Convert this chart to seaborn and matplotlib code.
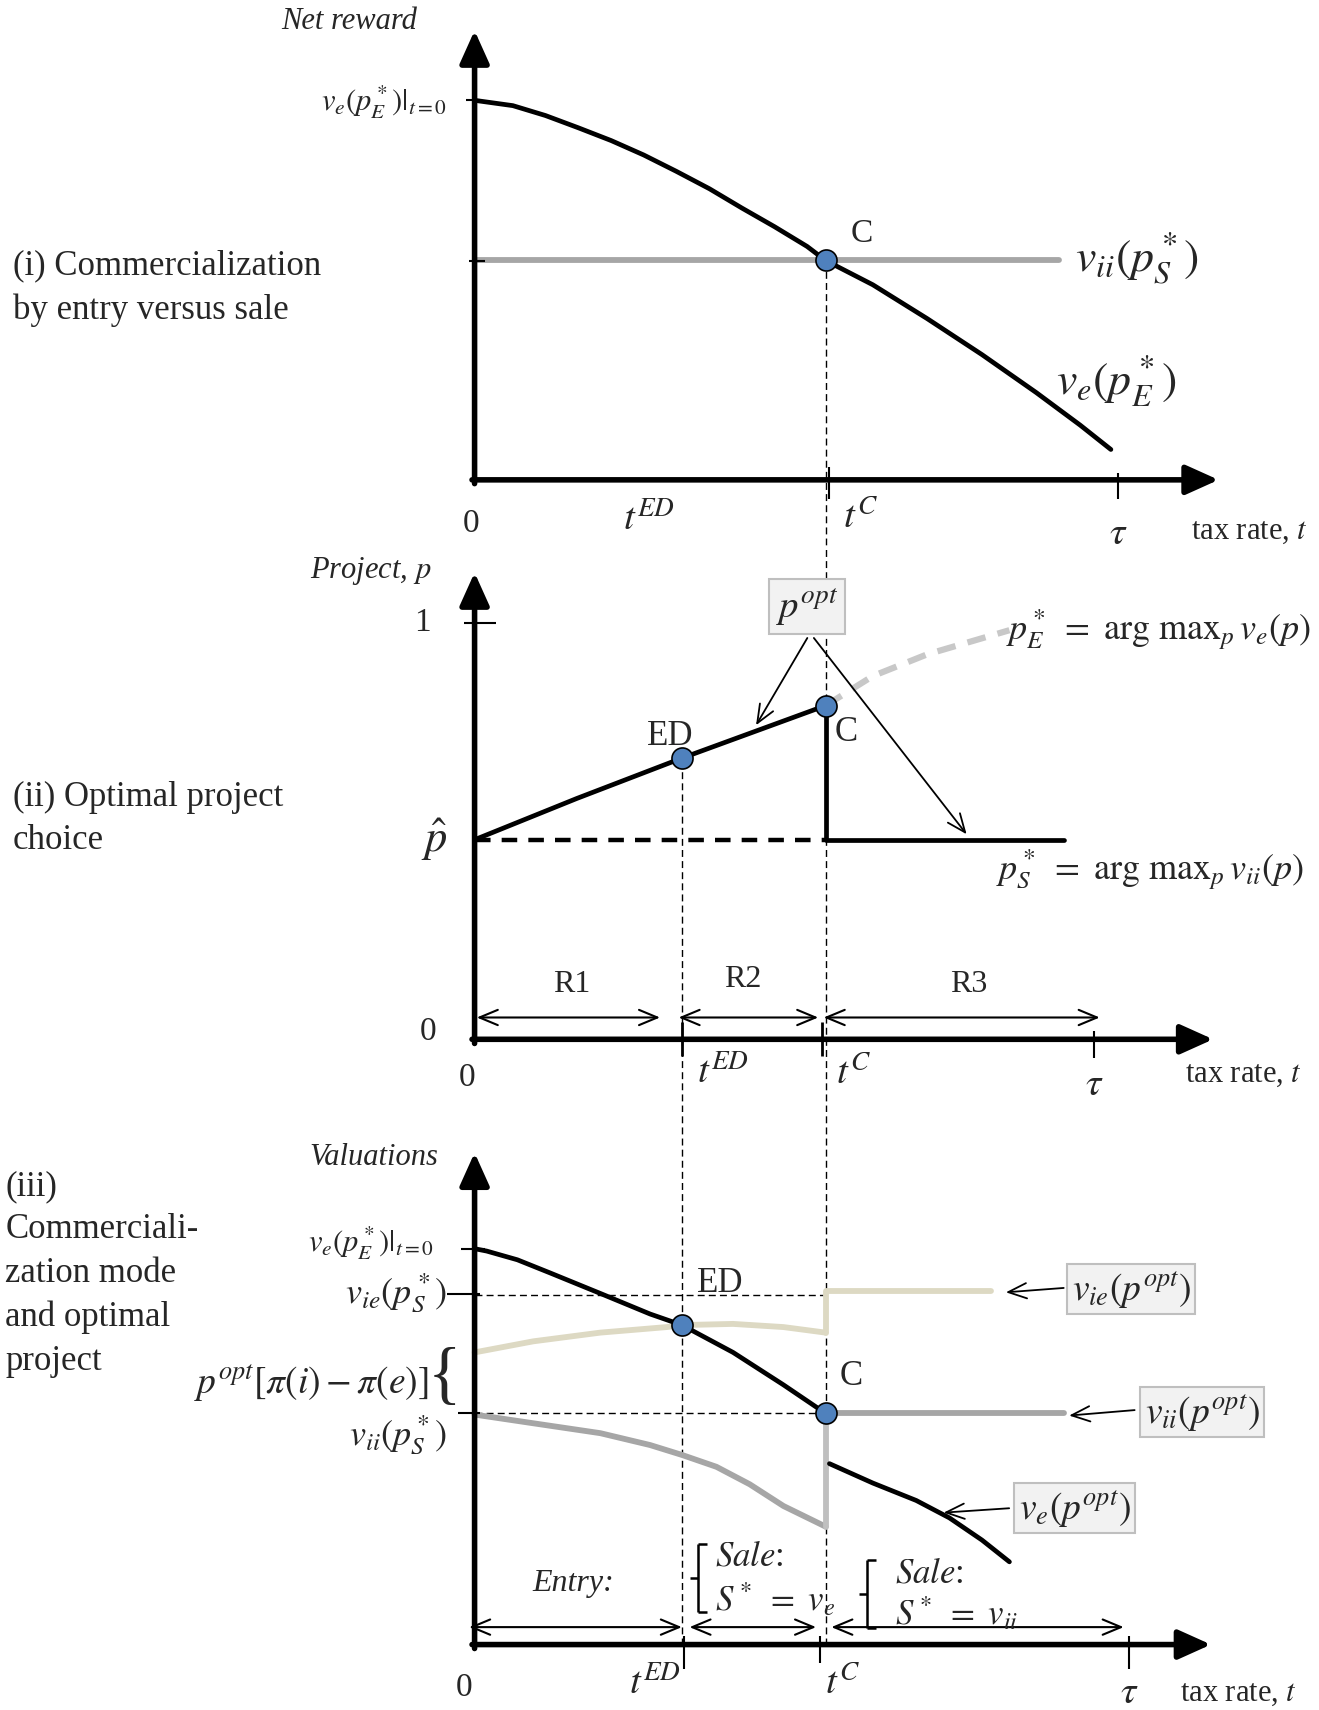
import matplotlib
matplotlib.use("Agg")
import matplotlib.pyplot as plt
import seaborn as sns

sns.set_style("white")
plt.rcParams["font.family"] = ["Liberation Serif", "DejaVu Serif"]
plt.rcParams["mathtext.fontset"] = "stix"

# key tax rates (tau = 1)
T_ED = 0.325
T_C = 0.55
TAU = 1.0

# panel (i): net reward
p1_t = [0.0, 0.060, 0.111, 0.162, 0.214, 0.265, 0.316, 0.368, 0.419, 0.470, 0.521, T_C,
        0.624, 0.709, 0.795, 0.880, 0.949, 0.997]
p1_ve = [1.0, 0.986, 0.960, 0.928, 0.894, 0.856, 0.813, 0.767, 0.716, 0.667, 0.615, 0.578,
         0.514, 0.425, 0.330, 0.230, 0.144, 0.080]
p1_vii = 0.578
p1_vii_end = 0.915

# panel (ii): optimal project
p2_t = [0.0, 0.16, T_ED, T_C]
p2_popt = [0.479, 0.578, 0.675, 0.801]
p2_phat = 0.479
p2_pE_t = [T_C, 0.624, 0.709, 0.838]
p2_pE = [0.801, 0.872, 0.924, 0.982]
p2_pS_end = 0.923

# panel (iii): valuations
p3_ve_t1 = [0.0, 0.019, 0.067, 0.118, 0.197, 0.275, T_ED, 0.405, 0.484, T_C]
p3_ve1 = [1.0, 0.994, 0.972, 0.939, 0.887, 0.835, 0.807, 0.738, 0.656, 0.584]
p3_ve_t2 = [0.556, 0.624, 0.692, 0.744, 0.795, 0.838]
p3_ve2 = [0.457, 0.408, 0.364, 0.320, 0.264, 0.209]
p3_vie_t = [0.0, 0.092, 0.197, 0.301, T_ED, 0.405, 0.484, T_C]
p3_vie = [0.738, 0.766, 0.788, 0.802, 0.807, 0.810, 0.802, 0.788]
p3_vie_high = 0.892
p3_vie_end = 0.809
p3_vii_t = [0.0, 0.092, 0.197, 0.275, T_ED, 0.379, 0.431, 0.484, T_C]
p3_vii = [0.581, 0.559, 0.534, 0.504, 0.479, 0.449, 0.405, 0.350, 0.298]
p3_vii_level = 0.584
p3_vii_end = 0.923
p3_vieS = 0.884

BLUE = "#4f81bd"
GRAY = "#a6a6a6"
LGRAY = "#bfbfbf"
BEIGE = "#ddd9c3"

W, H = 1209, 1568  # layout units (reference preview size)
fig = plt.figure(figsize=(13.19, 17.10), dpi=100)

# panel geometry: (origin y, px per unit, band top, band bottom)
PAN = {1: (440, 348, 0, 500), 2: (953, 382, 500, 1020), 3: (1508, 363, 1020, 1568)}
X0, SX = 435, 585


def make_ax(k):
    y0, sy, top, bot = PAN[k]
    ax = fig.add_axes([0, 1 - bot / H, 1, (bot - top) / H])
    ax.set_xlim(-X0 / SX, (W - X0) / SX)
    ax.set_ylim((y0 - bot) / sy, (y0 - top) / sy)
    ax.set_axis_off()
    return ax


def xy(k, x, y):
    y0, sy = PAN[k][:2]
    return ((x - X0) / SX, (y0 - y) / sy)


def ftxt(x, y, s, size=24, ha="center", **kw):
    fig.text(x / W, 1 - y / H, s, fontsize=size, ha=ha, va="center", **kw)


def axis_arrows(ax, k, top_y, right_x):
    st = dict(arrowstyle="-|>,head_length=1.0,head_width=0.45", mutation_scale=20,
              lw=4, color="black", shrinkA=0, shrinkB=0)
    ax.annotate("", xy=xy(k, X0, top_y), xytext=(0, -0.01), arrowprops=st)
    ax.annotate("", xy=xy(k, right_x, PAN[k][0]), xytext=(-0.004, 0), arrowprops=st)


def seg(ax, k, x1, y1, x2, y2, **kw):
    a, b = xy(k, x1, y1), xy(k, x2, y2)
    ax.plot([a[0], b[0]], [a[1], b[1]], color=kw.pop("color", "black"),
            lw=kw.pop("lw", 1.5), solid_capstyle="butt", clip_on=False, **kw)


def arrow(ax, k, p1, p2, style="->", lw=1.3):
    ax.annotate("", xy=xy(k, *p2), xytext=xy(k, *p1),
                arrowprops=dict(arrowstyle=style + ",head_length=0.6,head_width=0.25",
                                mutation_scale=22, lw=lw, color="black",
                                shrinkA=0, shrinkB=0))


def vdash(ax, t, lo, hi):
    ax.plot([t, t], [lo, hi], color="black", lw=1, ls=(0, (5, 3)), zorder=1)


def box(x, y, s, size=27, pad=0.12):
    fig.text(x / W, 1 - y / H, s, fontsize=size, ha="center", va="center",
             bbox=dict(boxstyle=f"square,pad={pad}", fc="#f2f2f2", ec=LGRAY, lw=1.5))


dot = dict(s=230, color=BLUE, edgecolor="black", linewidth=1.2, zorder=6)
thick = 3.4
side = dict(ha="left", linespacing=1.42)

# ---------------- panel (i)
ax1 = make_ax(1)
vdash(ax1, T_C, ax1.get_ylim()[0], p1_vii)
sns.lineplot(x=[0, p1_vii_end], y=[p1_vii, p1_vii], ax=ax1, color=GRAY, linewidth=4.2)
sns.lineplot(x=p1_t, y=p1_ve, ax=ax1, color="black", linewidth=thick, sort=False, estimator=None)
sns.scatterplot(x=[T_C], y=[p1_vii], ax=ax1, **dot)
axis_arrows(ax1, 1, 28, 1117)
seg(ax1, 1, 427, 92, 440, 92)
seg(ax1, 1, 430, 239, 445, 239)
seg(ax1, 1, 760, 428, 760, 458)
seg(ax1, 1, 1025, 434, 1025, 458)

ftxt(320, 20, "Net reward", 22, style="italic")
ftxt(410, 94, r"$v_e(p^*_E)|_{t=0}$", 22, ha="right")
ftxt(790, 214, "C", 24)
ftxt(985, 237, r"$v_{ii}(p^*_S)$", 33, ha="left")
ftxt(968, 350, r"$v_e(p^*_E)$", 33, ha="left")
ftxt(432, 480, "0", 24)
ftxt(595, 478, r"$t^{ED}$", 28)
ftxt(789, 475, r"$t^{C}$", 28)
ftxt(1025, 490, r"$\tau$", 28)
ftxt(1145, 487, r"tax rate, $t$", 22)
ftxt(12, 264, "(i) Commercialization\nby entry versus sale", 25, **side)

# ---------------- panel (ii)
ax2 = make_ax(2)
lo2, hi2 = ax2.get_ylim()
vdash(ax2, T_C, lo2, hi2)
vdash(ax2, T_ED, lo2, p2_popt[2])
sns.lineplot(x=[0, T_C], y=[p2_phat, p2_phat], ax=ax2, color="black", linewidth=3.2,
             linestyle=(0, (3.5, 2.5)))
sns.lineplot(x=p2_pE_t, y=p2_pE, ax=ax2, color="#c8c8c8", linewidth=4.5,
             linestyle=(0, (3, 2)), sort=False, estimator=None)
sns.lineplot(x=p2_t, y=p2_popt, ax=ax2, color="black", linewidth=thick, sort=False, estimator=None)
sns.lineplot(x=[T_C, T_C, p2_pS_end], y=[p2_popt[-1], p2_phat, p2_phat], ax=ax2,
             color="black", linewidth=thick, sort=False, estimator=None)
sns.scatterplot(x=[T_ED, T_C], y=[p2_popt[2], p2_popt[3]], ax=ax2, **dot)
axis_arrows(ax2, 2, 525, 1112)
seg(ax2, 2, 425, 571, 455, 571)
seg(ax2, 2, 625, 937, 625, 968, lw=2)
seg(ax2, 2, 753, 937, 753, 968, lw=2)
seg(ax2, 2, 1003, 945, 1003, 970)
for a, b in [(437, 605), (622, 750), (755, 1008)]:
    arrow(ax2, 2, (a, 933), (b, 933), style="<->", lw=1.5)
arrow(ax2, 2, (740, 585), (693, 665))
arrow(ax2, 2, (746, 585), (886, 765))

ftxt(340, 524, r"Project, $p$", 22, style="italic")
ftxt(387, 571, "1", 24)
ftxt(398, 770, r"$\hat{p}$", 32)
ftxt(392, 946, "0", 24)
ftxt(614, 675, "ED", 25)
ftxt(776, 672, "C", 25)
box(740, 556, r"$p^{opt}$", 28, pad=0.18)
ftxt(922, 578, r"$p^*_E\ =\ \mathrm{arg\ max}_p\, v_e(p)$", 26, ha="left")
ftxt(913, 797, r"$p^*_S\ =\ \mathrm{arg\ max}_p\, v_{ii}(p)$", 26, ha="left")
ftxt(524, 903, "R1", 23)
ftxt(681, 898, "R2", 23)
ftxt(888, 903, "R3", 23)
ftxt(428, 988, "0", 24)
ftxt(663, 985, r"$t^{ED}$", 28)
ftxt(782, 985, r"$t^{C}$", 28)
ftxt(1003, 995, r"$\tau$", 28)
ftxt(1140, 985, r"tax rate, $t$", 22)
ftxt(12, 751, "(ii) Optimal project\nchoice", 25, **side)

# ---------------- panel (iii)
ax3 = make_ax(3)
lo3, hi3 = ax3.get_ylim()
vdash(ax3, T_C, 0, hi3)
vdash(ax3, T_ED, 0, hi3)
for lvl in (p3_vieS, p3_vii_level):
    ax3.plot([0, T_C], [lvl, lvl], color="black", lw=1, ls=(0, (5, 3)), zorder=1)
sns.lineplot(x=p3_vie_t, y=p3_vie, ax=ax3, color=BEIGE, linewidth=4.2, sort=False, estimator=None)
sns.lineplot(x=[T_C, T_C, p3_vie_end], y=[p3_vie[-1], p3_vie_high, p3_vie_high], ax=ax3,
             color=BEIGE, linewidth=4.2, sort=False, estimator=None)
sns.lineplot(x=p3_vii_t, y=p3_vii, ax=ax3, color=GRAY, linewidth=4.2, sort=False, estimator=None)
sns.lineplot(x=[T_C, T_C], y=[p3_vii[-1], p3_vii_level], ax=ax3, color=LGRAY, linewidth=4.2,
             sort=False, estimator=None)
sns.lineplot(x=[T_C, p3_vii_end], y=[p3_vii_level, p3_vii_level], ax=ax3, color=GRAY,
             linewidth=4.2, sort=False, estimator=None)
sns.lineplot(x=p3_ve_t1, y=p3_ve1, ax=ax3, color="black", linewidth=thick, sort=False, estimator=None)
sns.lineplot(x=p3_ve_t2, y=p3_ve2, ax=ax3, color="black", linewidth=thick, sort=False, estimator=None)
sns.scatterplot(x=[T_ED, T_C], y=[p3_ve1[6], p3_ve1[-1]], ax=ax3, **dot)
axis_arrows(ax3, 3, 1057, 1110)
seg(ax3, 3, 423, 1145, 445, 1145)
seg(ax3, 3, 410, 1187, 440, 1187)
seg(ax3, 3, 420, 1296, 440, 1296)
seg(ax3, 3, 627, 1500, 627, 1530)
seg(ax3, 3, 752, 1500, 752, 1525)
seg(ax3, 3, 1035, 1500, 1035, 1530)
for a, b in [(430, 625), (632, 748), (762, 1030)]:
    arrow(ax3, 3, (a, 1492), (b, 1492), style="<->", lw=1.5)
arrow(ax3, 3, (975, 1181), (922, 1185))
arrow(ax3, 3, (1040, 1293), (980, 1298))
arrow(ax3, 3, (925, 1383), (865, 1387))
# brackets for the sale regions
for bx, top, bot in [(640, 1416, 1478), (795, 1430, 1493)]:
    mid = (top + bot) / 2
    seg(ax3, 3, bx + 8, top, bx, top, lw=1.8)
    seg(ax3, 3, bx, top, bx, bot, lw=1.8)
    seg(ax3, 3, bx, bot, bx + 8, bot, lw=1.8)
    seg(ax3, 3, bx, mid, bx - 8, mid, lw=1.8)

ftxt(343, 1061, "Valuations", 22, style="italic")
ftxt(398, 1140, r"$v_e(p^*_E)|_{t=0}$", 22, ha="right")
ftxt(410, 1186, r"$v_{ie}(p^*_S)$", 26, ha="right")
ftxt(407, 1265, "{", 50, family=["Liberation Serif"])
ftxt(393, 1268, r"$p^{opt}[\pi(i) - \pi(e)]$", 27, ha="right")
ftxt(410, 1316, r"$v_{ii}(p^*_S)$", 26, ha="right")
ftxt(660, 1177, "ED", 25)
ftxt(780, 1262, "C", 25)
box(1037, 1182, r"$v_{ie}(p^{opt})$")
box(1102, 1295, r"$v_{ii}(p^{opt})$")
box(985, 1383, r"$v_e(p^{opt})$")
ftxt(525, 1452, "Entry:", 23, style="italic")
ftxt(655, 1428, r"$Sale$:", 25, ha="left")
ftxt(655, 1467, r"$S^*\ =\ v_e$", 25, ha="left")
ftxt(820, 1443, r"$Sale$:", 25, ha="left")
ftxt(820, 1480, r"$S^*\ =\ v_{ii}$", 25, ha="left")
ftxt(425, 1548, "0", 24)
ftxt(600, 1545, r"$t^{ED}$", 28)
ftxt(772, 1545, r"$t^{C}$", 28)
ftxt(1035, 1553, r"$\tau$", 28)
ftxt(1135, 1553, r"tax rate, $t$", 22)
ftxt(5, 1168, "(iii)\nCommerciali-\nzation mode\nand optimal\nproject", 25, **side)

fig.savefig("out.png", dpi=100)
